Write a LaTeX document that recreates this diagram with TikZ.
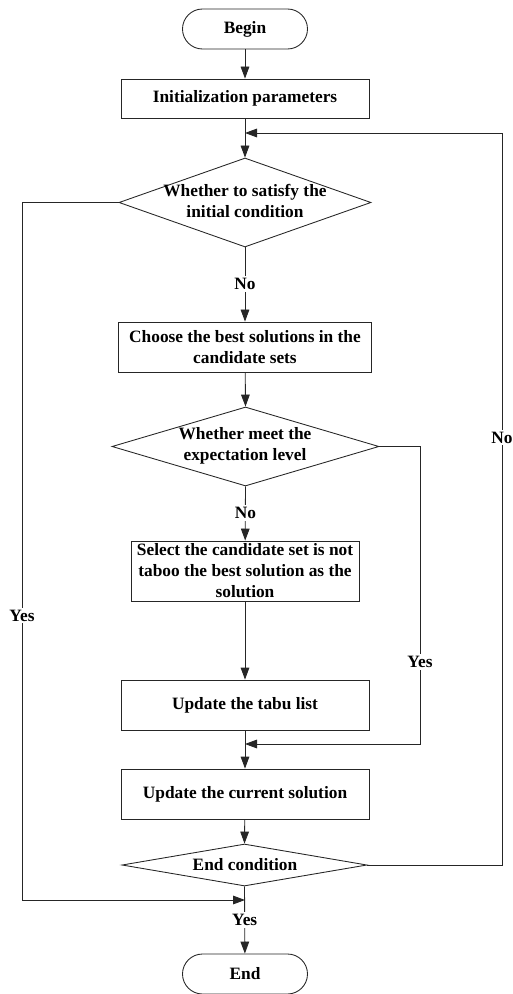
\documentclass[tikz,border=0pt]{standalone}
\usepackage{fontspec}
\setmainfont{Liberation Serif}
\usetikzlibrary{shapes.geometric,arrows.meta}
\begin{document}
\begin{tikzpicture}[x=0.75pt,y=-0.75pt,
  font=\fontsize{13}{15.7}\selectfont\bfseries,
  line/.style={draw=black!85, line width=0.65pt},
  arr/.style={line, -{Triangle[length=9pt,width=6.5pt]}},
  term/.style={line, rectangle, rounded corners=15pt, minimum width=93.75pt, minimum height=30pt, inner sep=0pt},
  proc/.style={line, rectangle, minimum width=186pt, minimum height=37.5pt, inner sep=0pt, align=center},
  dec/.style={line, diamond, inner sep=0pt},
  lbl/.style={fill=white, inner sep=1.5pt}]
\useasboundingbox (0,0) rectangle (512,994);

% main column
\node[term] (begin) at (245,29) {Begin};
\node[proc, minimum height=29.25pt] (init) at (245,98.5) {Initialization parameters};
\node[dec, minimum width=189pt, minimum height=66.75pt] (d1) at (245,202.5) {};
\node[align=center] (d1t) at (245,201) {Whether to satisfy the\\initial condition};
\node[proc, minimum width=189.75pt] (choose) at (245,347) {Choose the best solutions in the\\candidate sets};
\node[dec, minimum width=200.25pt, minimum height=59.25pt] (d2) at (245.5,446.5) {};
\node[align=center] (d2t) at (245,446) {Whether meet the\\expectation level};
\node[proc, minimum width=171pt, minimum height=45pt] (select) at (245,571) {Select the candidate set is not\\taboo the best solution as the\\solution};
\node[proc] (tabu) at (245,705) {Update the tabu list};
\node[proc] (cur) at (245,794) {Update the current solution};
\node[dec, minimum width=183.75pt, minimum height=31.5pt] (d3) at (244.5,865) {};
\node (d3t) at (245,865) {End condition};
\node[term] (end) at (245,974) {End};

% junction points
\coordinate (j1) at (245,133);
\coordinate (j2) at (245,744);
\coordinate (j3) at (245,900);

% straight flow
\draw[arr] (begin) -- (init);
\draw[arr] (init) -- (d1.north);
\draw[arr] (d1.south) -- node[lbl, pos=0.49] (no1) {No} (choose);
\draw[arr] (choose) -- (d2.north);
\draw[arr] (d2.south) -- node[lbl, pos=0.49] (no2) {No} (select);
\draw[arr] (select) -- (tabu);
\draw[arr] (tabu) -- (cur);
\draw[arr] (cur) -- (d3.north);
\draw[arr] (d3.south) -- node[lbl, pos=0.5] (yes4) {Yes} (end);

% side branches
\draw[arr] (d1.west) -| node[lbl, pos=0.796] (yes1) {Yes} (22,900) -- (j3);
\draw[arr] (d2.east) -| node[lbl, pos=0.862] (yes2) {Yes} (420,744) -- (j2);
\draw[arr] (d3.east) -| node[lbl, pos=0.792] (no3) {No} (502,133) -- (j1);
\end{tikzpicture}
\end{document}
